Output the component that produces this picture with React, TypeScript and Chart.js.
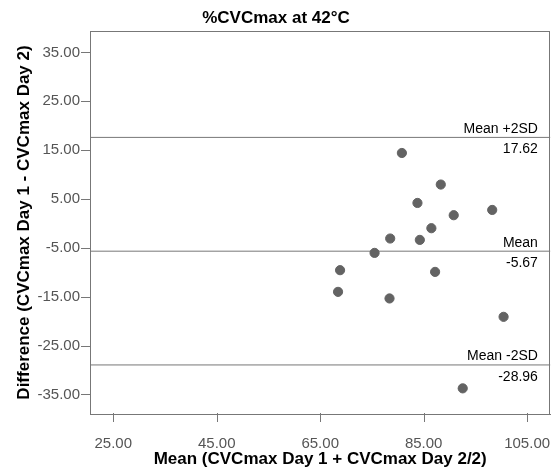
import React, { useEffect, useRef } from 'react';
import { Chart, registerables } from 'chart.js';

Chart.register(...registerables);

const chartTitle = '%CVCmax at 42°C';
const xAxisTitle = 'Mean (CVCmax Day 1 + CVCmax Day 2/2)';
const yAxisTitle = 'Difference (CVCmax Day 1 - CVCmax Day 2)';

// Bland-Altman points: mean of the two days (x) and difference (y)
const meanValues = [80.79, 88.31, 83.8, 90.81, 98.25, 86.49, 78.53, 84.26, 75.51, 68.84, 87.21, 68.45, 78.4, 100.45, 92.55];
const diffValues = [14.43, 7.97, 4.2, 1.69, 2.77, -0.97, -3.08, -3.36, -6.02, -9.56, -9.91, -14.0, -15.35, -19.11, -33.75];

const xTicks = [25, 45, 65, 85, 105];
const yTicks = [35, 25, 15, 5, -5, -15, -25, -35];
const xRange = [20.5, 109.5];
const yRange = [-39.0, 39.4];

const refValues = [17.62, -5.67, -28.96];
const refNames = ['Mean +2SD', 'Mean', 'Mean -2SD'];

const FONT = '"Liberation Sans", Arial, sans-serif';
const AXIS_GRAY = '#777777';
const X_TICK_LEN = 8;
const Y_TICK_LEN = 9;

const frameAndLabels = {
  id: 'frameAndLabels',
  afterDraw(chart: any) {
    const { ctx, chartArea: a } = chart;
    const xs = chart.scales.x;
    const ys = chart.scales.y;
    ctx.save();
    ctx.fillStyle = AXIS_GRAY;
    const top = Math.round(a.top);
    const right = Math.round(a.right);
    const bottom = Math.round(a.bottom);
    const left = Math.round(a.left);
    // top and right frame
    ctx.fillRect(left, top, right - left, 1);
    ctx.fillRect(right - 1, top, 1, bottom - top);
    // tick marks
    for (const v of xTicks) {
      const px = Math.round(xs.getPixelForValue(v));
      ctx.fillRect(px, bottom - 1, 1, X_TICK_LEN + 1);
    }
    for (const v of yTicks) {
      const py = Math.round(ys.getPixelForValue(v));
      ctx.fillRect(left - Y_TICK_LEN, py, Y_TICK_LEN + 1, 1);
    }

    ctx.fillStyle = '#000';
    ctx.font = `14px ${FONT}`;
    ctx.textAlign = 'right';
    ctx.textBaseline = 'middle';
    refValues.forEach((v, i) => {
      const py = ys.getPixelForValue(v);
      ctx.fillText(refNames[i], a.right - 12.5, py - 8.5);
      ctx.fillText(v.toFixed(2), a.right - 12.5, py + 12);
    });
    ctx.restore();
  },
};

export default function App() {
  const ref = useRef<HTMLCanvasElement>(null);

  useEffect(() => {
    const points = meanValues.map((x, i) => ({ x, y: diffValues[i] }));
    const refDatasets = refValues.map((v) => ({
      type: 'line' as const,
      data: [
        { x: xRange[0], y: v },
        { x: xRange[1], y: v },
      ],
      borderColor: AXIS_GRAY,
      borderWidth: 1,
      pointRadius: 0,
      fill: false,
    }));

    const chart = new Chart(ref.current as HTMLCanvasElement, {
      type: 'scatter',
      data: {
        datasets: [
          {
            data: points,
            backgroundColor: '#636363',
            borderColor: '#636363',
            borderWidth: 1,
            pointRadius: 4.6,
          } as any,
          ...refDatasets,
        ],
      },
      plugins: [frameAndLabels],
      options: {
        responsive: false,
        animation: false,
        layout: { padding: { left: 0, right: 4, top: 0, bottom: 0 } },
        plugins: {
          legend: { display: false },
          tooltip: { enabled: false },
          title: {
            display: true,
            text: chartTitle,
            color: '#000',
            font: { family: FONT, size: 17, weight: 'bold' },
            padding: { top: 8, bottom: 2.6 },
          },
        },
        scales: {
          x: {
            type: 'linear',
            min: xRange[0],
            max: xRange[1],
            afterBuildTicks: (scale: any) => {
              scale.ticks = xTicks.map((v) => ({ value: v }));
            },
            afterFit: (scale: any) => {
              scale.height = 60;
              scale.paddingLeft = 0;
              scale.paddingRight = 0;
            },
            ticks: {
              callback: (v: any) => Number(v).toFixed(2),
              color: '#555',
              font: { family: FONT, size: 15 },
              padding: 13,
              maxRotation: 0,
              autoSkip: false,
            },
            grid: {
              display: true,
              drawOnChartArea: false,
              drawTicks: true,
              tickLength: X_TICK_LEN,
              color: 'rgba(0,0,0,0)',
            },
            border: { display: true, color: AXIS_GRAY, width: 1 },
            title: {
              display: true,
              text: xAxisTitle,
              color: '#000',
              font: { family: FONT, size: 17, weight: 'bold' },
              padding: { top: 0, bottom: 4.8 },
            },
          },
          y: {
            type: 'linear',
            min: yRange[0],
            max: yRange[1],
            afterBuildTicks: (scale: any) => {
              scale.ticks = yTicks.map((v) => ({ value: v }));
            },
            afterFit: (scale: any) => {
              scale.width = 90;
              scale.paddingTop = 0;
              scale.paddingBottom = 0;
            },
            ticks: {
              callback: (v: any) => Number(v).toFixed(2),
              color: '#555',
              font: { family: FONT, size: 15 },
              padding: 1,
              autoSkip: false,
            },
            grid: {
              display: true,
              drawOnChartArea: false,
              drawTicks: true,
              tickLength: Y_TICK_LEN,
              color: 'rgba(0,0,0,0)',
            },
            border: { display: true, color: AXIS_GRAY, width: 1 },
            title: {
              display: true,
              text: yAxisTitle,
              color: '#000',
              font: { family: FONT, size: 17, weight: 'bold' },
              padding: { top: 14.3, bottom: 0 },
            },
          },
        },
      } as any,
    });
    return () => chart.destroy();
  }, []);

  return (
    <div style={{ position: 'absolute', left: 0, top: 0, width: 556, height: 474, background: '#fff' }}>
      <canvas ref={ref} width={556} height={474} style={{ display: 'block' }} />
    </div>
  );
}
